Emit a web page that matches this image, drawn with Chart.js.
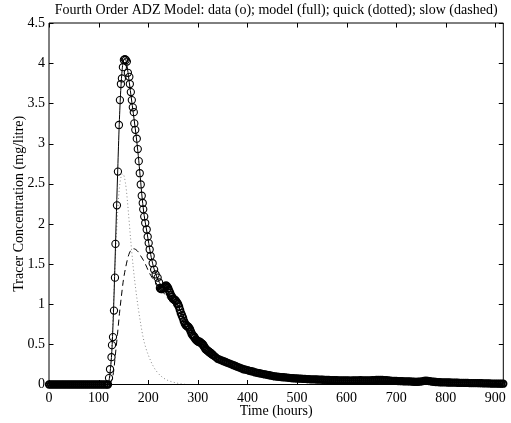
<!DOCTYPE html>
<html>
<head>
<meta charset="utf-8">
<script src="https://cdn.jsdelivr.net/npm/chart.js@4"></script>
<style>
  html, body { margin: 0; padding: 0; background: #fff; }
  #wrap { width: 511px; height: 423px; }
</style>
</head>
<body>
<div id="wrap"><canvas id="adz" width="511" height="423"></canvas></div>
<script>
// measured data (o)
const baseTime = [0,4,8,12,16,20,24,28,32,36,40,44,48,52,56,60,64,68,72,76,80,84,88,92,96,100,104,108,112,116,119];
const baseConc = [0,0,0,0,0,0,0,0,0,0,0,0,0,0,0,0,0,0,0,0,0,0,0,0,0,0,0,0,0,0,0];

const peakTime = [121,123,126,127,129, 131,133,134,137,139, 141,143,145,147,149, 151,153,155,157,159,
                  162,163,165,167,169, 171,172,174,177,179, 181,183,185,187,189, 190,192,194,197,199,
                  201,203,205,209,212, 215,219,222];
const peakConc = [0.08,0.19,0.34,0.49,0.59, 0.92,1.33,1.75,2.23,2.65, 3.23,3.54,3.74,3.81,3.95, 4.04,4.05,4.04,4.02,3.88,
                  3.83,3.74,3.64,3.54,3.45, 3.39,3.25,3.17,3.06,2.93, 2.78,2.63,2.49,2.35,2.26, 2.18,2.09,2.01,1.93,1.84,
                  1.76,1.68,1.60,1.51,1.43, 1.37,1.33,1.27];

const midTime = [224,226,228,230,232,234,236,238,240,242, 244,246,248,250,252,254,256,258,260,262,
                 264,266,268,270,272,274,276,278,280,282, 284,286,288,290,292,294,296,298,300,302,
                 304,306,308,310,312,314,316,318,320,322, 324,326,328,330];
const midConc = [1.20,1.19,1.19,1.20,1.21,1.22,1.23,1.22,1.20,1.17, 1.14,1.11,1.09,1.07,1.06,1.05,1.04,1.02,1.00,0.97,
                 0.93,0.89,0.86,0.83,0.79,0.76,0.74,0.73,0.72,0.71, 0.69,0.66,0.63,0.61,0.60,0.58,0.56,0.55,0.54,0.53,
                 0.53,0.52,0.51,0.50,0.48,0.46,0.44,0.43,0.42,0.41, 0.40,0.39,0.38,0.37];

const tailTime = [332,336,340,344,348,352,356,360,364,368, 372,376,380,384,388,392,396,400,404,408,
                  412,416,420,424,428,432,436,440,444,448, 452,456,460,464,468,472,476,480,484,488,
                  492,496,500,504,508,512,516,520,524,528, 532,536,540,544,548,552,556,560,564,568,
                  572,576,580,584,588,592,596,600,604,608, 612,616,620,624,628,632,636,640,644,648,
                  652,656,660,664,668,672,676,680,684,688, 692,696,700,704,708,712,716,720,724,728,
                  732,736,740,744,748,752,756,760,764,768, 772,776,780,784,788,792,796,800,804,808,
                  812,816,820,824,828,832,836,840,844,848, 852,856,860,864,868,872,876,880,884,888,
                  892,896,900,904,908,912,916];
const tailConc = [0.36,0.34,0.32,0.31,0.30,0.29,0.28,0.27,0.26,0.25, 0.24,0.23,0.22,0.21,0.20,0.19,0.185,0.18,0.17,0.165,
                  0.16,0.15,0.145,0.14,0.135,0.13,0.125,0.12,0.115,0.11, 0.105,0.10,0.098,0.095,0.092,0.09,0.088,0.085,0.083,0.08,
                  0.078,0.076,0.075,0.073,0.072,0.07,0.069,0.068,0.066,0.065, 0.064,0.063,0.062,0.061,0.06,0.059,0.058,0.057,0.056,0.055,
                  0.055,0.054,0.053,0.052,0.052,0.051,0.05,0.05,0.05,0.049, 0.05,0.051,0.052,0.052,0.053,0.052,0.051,0.05,0.05,0.051,
                  0.053,0.055,0.056,0.057,0.057,0.056,0.055,0.053,0.05,0.048, 0.046,0.045,0.044,0.043,0.042,0.041,0.04,0.04,0.039,0.038,
                  0.036,0.034,0.033,0.034,0.036,0.04,0.045,0.047,0.045,0.041, 0.037,0.034,0.031,0.029,0.028,0.027,0.026,0.026,0.025,0.025,
                  0.024,0.024,0.023,0.022,0.021,0.02,0.02,0.019,0.019,0.018, 0.018,0.018,0.017,0.017,0.016,0.016,0.015,0.014,0.014,0.013,
                  0.012,0.012,0.011,0.011,0.01,0.01,0.01];

// model (full)
const fullTime = [0,118,121,124,127,130,133,136,139,142,145,148,151,154,157,160,164,168,172,176,180,184,188,192,196,
                  200,205,210,215,220,230,240,250,260,270,280,290,300,310,320,330,340,360,380,400,450,500,600,700,800,916];
const fullConc = [0,0,0.05,0.2,0.45,0.9,1.5,2.15,2.75,3.3,3.7,3.95,4.04,4.05,3.98,3.85,3.66,3.47,3.28,3.08,2.85,2.58,2.31,2.1,1.95,
                  1.8,1.62,1.48,1.38,1.3,1.2,1.13,1.06,0.98,0.86,0.74,0.63,0.55,0.5,0.43,0.38,0.33,0.27,0.22,0.18,0.115,0.08,0.05,0.042,0.028,0.01];

// quick (dotted)
const quickTime = [0,118,122,126,130,134,138,142,146,149,152,156,160,165,170,175,180,185,190,195,200,210,220,230,240,250,260,270,280,916];
const quickConc = [0,0,0.05,0.4,1.0,1.6,2.1,2.45,2.6,2.62,2.58,2.42,2.15,1.78,1.45,1.18,0.95,0.75,0.58,0.46,0.37,0.23,0.14,0.085,0.05,0.03,0.015,0.005,0,0];

// slow (dashed)
const slowTime = [0,120,126,130,134,138,142,146,150,155,160,165,170,175,180,185,190,195,200,205,210,215,220,230,
                  240,250,260,270,280,290,300,320,340,360,380,400,450,500,600,700,800,916];
const slowConc = [0,0,0.05,0.15,0.38,0.62,0.88,1.1,1.3,1.47,1.6,1.67,1.69,1.68,1.65,1.6,1.55,1.49,1.42,1.36,1.31,1.27,1.23,1.15,
                  1.07,0.99,0.92,0.84,0.75,0.66,0.57,0.44,0.34,0.27,0.22,0.18,0.115,0.08,0.05,0.04,0.03,0.01];

const xTicks = [0,100,200,300,400,500,600,700,800,900];
const yTicks = [0,0.5,1,1.5,2,2.5,3,3.5,4,4.5];

function pts(t, v) {
    return t.map((x, i) => ({ x: x, y: v[i] }));
}

const measured = [].concat(pts(baseTime, baseConc), pts(peakTime, peakConc), pts(midTime, midConc), pts(tailTime, tailConc));

// box round the plot with inward ticks on all four sides
const frame = {
    id: 'frame',
    afterDatasetsDraw(chart) {
        const { ctx, chartArea: a, scales: { x, y } } = chart;
        ctx.save();
        ctx.strokeStyle = '#000';
        ctx.lineWidth = 1;
        ctx.beginPath();
        ctx.rect(a.left, a.top, a.right - a.left, a.bottom - a.top);
        xTicks.forEach(v => {
            const px = Math.round(x.getPixelForValue(v)) + 0.5;
            ctx.moveTo(px, a.bottom); ctx.lineTo(px, a.bottom - 4.5);
            ctx.moveTo(px, a.top); ctx.lineTo(px, a.top + 4.5);
        });
        yTicks.forEach(v => {
            const py = Math.round(y.getPixelForValue(v)) + 0.5;
            ctx.moveTo(a.left, py); ctx.lineTo(a.left + 4.5, py);
            ctx.moveTo(a.right, py); ctx.lineTo(a.right - 4.5, py);
        });
        ctx.stroke();
        ctx.restore();
    }
};

Chart.defaults.font.family = '"Liberation Serif", "Times New Roman", serif';
Chart.defaults.color = '#000';

// where the samples pile up (baseline and long tail) the circles merge into a solid band
const crowded = c => c.raw && (c.raw.x < 120 || c.raw.x > 330);
const busy = c => c.raw && c.raw.x > 222 && c.raw.x <= 330;

new Chart(document.getElementById('adz'), {
    type: 'scatter',
    data: {
        datasets: [
            {
                label: 'data',
                data: measured,
                showLine: false,
                pointStyle: 'circle',
                pointRadius: c => crowded(c) ? 3.2 : 3.6,
                pointBorderWidth: c => crowded(c) ? 1.9 : (busy(c) ? 1.5 : 1.1),
                pointBorderColor: '#000',
                pointBackgroundColor: 'rgba(0,0,0,0)',
                clip: false,
                order: 0
            },
            {
                label: 'model',
                data: pts(fullTime, fullConc),
                showLine: true,
                borderColor: '#000',
                borderWidth: 1,
                pointRadius: 0,
                cubicInterpolationMode: 'monotone',
                order: 1
            },
            {
                label: 'slow',
                data: pts(slowTime, slowConc),
                showLine: true,
                borderColor: '#000',
                borderWidth: 1,
                borderDash: [6, 4],
                pointRadius: 0,
                cubicInterpolationMode: 'monotone',
                order: 2
            },
            {
                label: 'quick',
                data: pts(quickTime, quickConc),
                showLine: true,
                borderColor: '#888',
                borderWidth: 1,
                borderDash: [1, 2.5],
                pointRadius: 0,
                cubicInterpolationMode: 'monotone',
                order: 3
            }
        ]
    },
    options: {
        responsive: false,
        animation: false,
        devicePixelRatio: 1,
        layout: { padding: { top: 0, right: 2.5, bottom: 0, left: 0 } },
        plugins: {
            legend: { display: false },
            tooltip: { enabled: false },
            title: {
                display: true,
                fullSize: false,
                text: 'Fourth Order ADZ Model: data (o); model (full); quick (dotted); slow (dashed)',
                font: { size: 14, weight: 'normal' },
                padding: { top: 1.5, bottom: 4.7 }
            }
        },
        scales: {
            x: {
                type: 'linear',
                min: 0,
                max: 916,
                grid: { display: false, drawTicks: false },
                border: { display: false },
                ticks: { stepSize: 100, padding: 5, maxRotation: 0, font: { size: 14 } },
                afterBuildTicks: s => { s.ticks = xTicks.map(v => ({ value: v })); },
                afterFit: s => { s.height = 38.5; },
                title: { display: true, text: 'Time (hours)', font: { size: 14 }, padding: { top: 0, bottom: 3.5 } }
            },
            y: {
                min: 0,
                max: 4.5,
                grid: { display: false, drawTicks: false },
                border: { display: false },
                ticks: { stepSize: 0.5, padding: 4, font: { size: 14 }, callback: v => String(v) },
                afterBuildTicks: s => { s.ticks = yTicks.map(v => ({ value: v })); },
                afterFit: s => { s.width = 49; },
                title: { display: true, text: 'Tracer Concentration (mg/litre)', font: { size: 14 }, padding: { top: 10.5, bottom: 0 } }
            }
        }
    },
    plugins: [frame]
});
</script>
</body>
</html>
